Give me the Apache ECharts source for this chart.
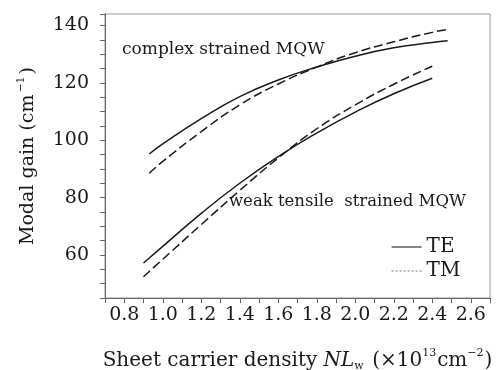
<!DOCTYPE html>
<html>
<head>
<meta charset="utf-8">
<title>Modal gain</title>
<script src="https://cdn.jsdelivr.net/npm/echarts/dist/echarts.min.js"></script>
<style>
  html, body { margin: 0; padding: 0; background: #fff; }
  #chart { width: 500px; height: 370px; }
</style>
</head>
<body>
<div id="chart"></div>
<script>
// 数据
const complexX = [0.93, 1.0, 1.2, 1.4, 1.6, 1.8, 2.0, 2.2, 2.4, 2.48];
const complexTE = [95.2, 98.7, 107.5, 115.2, 121.0, 125.5, 129.3, 132.2, 134.1, 134.7];
const complexTM = [88.5, 92.6, 103.0, 112.3, 119.6, 125.5, 130.5, 134.3, 137.6, 138.6];

const weakX = [0.9, 1.0, 1.2, 1.4, 1.6, 1.8, 2.0, 2.2, 2.4];
const weakTE = [57.2, 63.0, 74.5, 85.0, 94.3, 102.5, 109.8, 116.2, 121.6];
const weakTM = [52.4, 58.5, 70.6, 82.5, 93.8, 104.0, 112.3, 119.5, 125.8];

const yLabels = [60, 80, 100, 120, 140];
const xLabels = ["0.8", "1.0", "1.2", "1.4", "1.6", "1.8", "2.0", "2.2", "2.4", "2.6"];

const font = "DejaVu Serif";
const ink = "#1a1a1a";

function pairs(xs, ys) {
  return xs.map((x, i) => [x, ys[i]]);
}

function curve(name, xs, ys, dashed) {
  return {
    name: name,
    type: "line",
    smooth: true,
    symbol: "none",
    silent: true,
    itemStyle: { color: ink },
    lineStyle: {
      color: ink,
      width: 1.5,
      type: dashed ? [9, 4] : "solid"
    },
    data: pairs(xs, ys)
  };
}

const chart = echarts.init(document.getElementById("chart"), null, { renderer: "canvas" });

const option = {
  backgroundColor: "#fff",
  animation: false,
  grid: {
    left: 105,
    top: 14,
    right: 10,
    bottom: 72,
    containLabel: false,
    outerBoundsMode: "none",
    show: true,
    borderColor: "#999",
    borderWidth: 1
  },
  legend: {
    orient: "vertical",
    left: 386,
    top: 232,
    itemWidth: 30,
    itemHeight: 12,
    itemGap: 4,
    selectedMode: false,
    textStyle: { fontFamily: font, fontSize: 20, color: ink },
    data: [
      { name: "TE", itemStyle: { opacity: 0 }, lineStyle: { color: "#333", width: 1.2, type: "solid" } },
      { name: "TM", itemStyle: { opacity: 0 }, lineStyle: { color: "#777", width: 1, type: [2, 2] } }
    ]
  },
  xAxis: {
    type: "value",
    min: 0.7,
    max: 2.7,
    interval: 0.1,
    splitLine: { show: false },
    axisLine: { lineStyle: { color: "#666", width: 1 } },
    axisTick: { inside: false, length: 5, lineStyle: { color: "#666" } },
    axisLabel: {
      fontFamily: font,
      fontSize: 19,
      color: ink,
      margin: 8,
      showMinLabel: true,
      showMaxLabel: true,
      formatter: function (v) {
        const s = v.toFixed(1);
        return xLabels.indexOf(s) >= 0 ? s : "";
      }
    },
    nameLocation: "middle",
    nameGap: 50,
    name: "{t|Sheet carrier density }{i|NL}{sub|w}{t| (×10}{sup|13}{t|cm}{sup|−2}{t|)}",
    nameTextStyle: {
      color: ink,
      rich: {
        t: { fontFamily: font, fontSize: 20, color: ink },
        i: { fontFamily: font, fontSize: 20, fontStyle: "italic", color: ink },
        sub: { fontFamily: font, fontSize: 11, color: ink, padding: [12, 2, 0, 0] },
        sup: { fontFamily: font, fontSize: 11, color: ink, padding: [0, 1, 14, 0] }
      }
    }
  },
  yAxis: {
    type: "value",
    min: 45,
    max: 144,
    interval: 5,
    splitLine: { show: false },
    axisLine: { lineStyle: { color: "#666", width: 1 } },
    axisTick: { inside: false, length: 5, lineStyle: { color: "#666" } },
    axisLabel: {
      fontFamily: font,
      fontSize: 19,
      color: ink,
      margin: 16,
      formatter: function (v) {
        return yLabels.indexOf(Math.round(v)) >= 0 ? String(Math.round(v)) : "";
      }
    },
    nameLocation: "middle",
    nameGap: 64,
    name: "{t|Modal gain (cm}{sup|−1}{t|)}",
    nameTextStyle: {
      color: ink,
      rich: {
        t: { fontFamily: font, fontSize: 19, color: ink },
        sup: { fontFamily: font, fontSize: 11, color: ink, padding: [0, 2, 14, 2] }
      }
    }
  },
  graphic: [
    {
      type: "text",
      left: 122,
      top: 41,
      style: { text: "complex strained MQW", fontFamily: font, fontSize: 17, fill: ink }
    },
    {
      type: "text",
      left: 229,
      top: 193,
      style: { text: "weak tensile  strained MQW", fontFamily: font, fontSize: 16.5, fill: ink }
    }
  ],
  series: [
    curve("TE", complexX, complexTE, false),
    curve("TM", complexX, complexTM, true),
    curve("TE", weakX, weakTE, false),
    curve("TM", weakX, weakTM, true)
  ]
};

chart.setOption(option);
</script>
</body>
</html>
